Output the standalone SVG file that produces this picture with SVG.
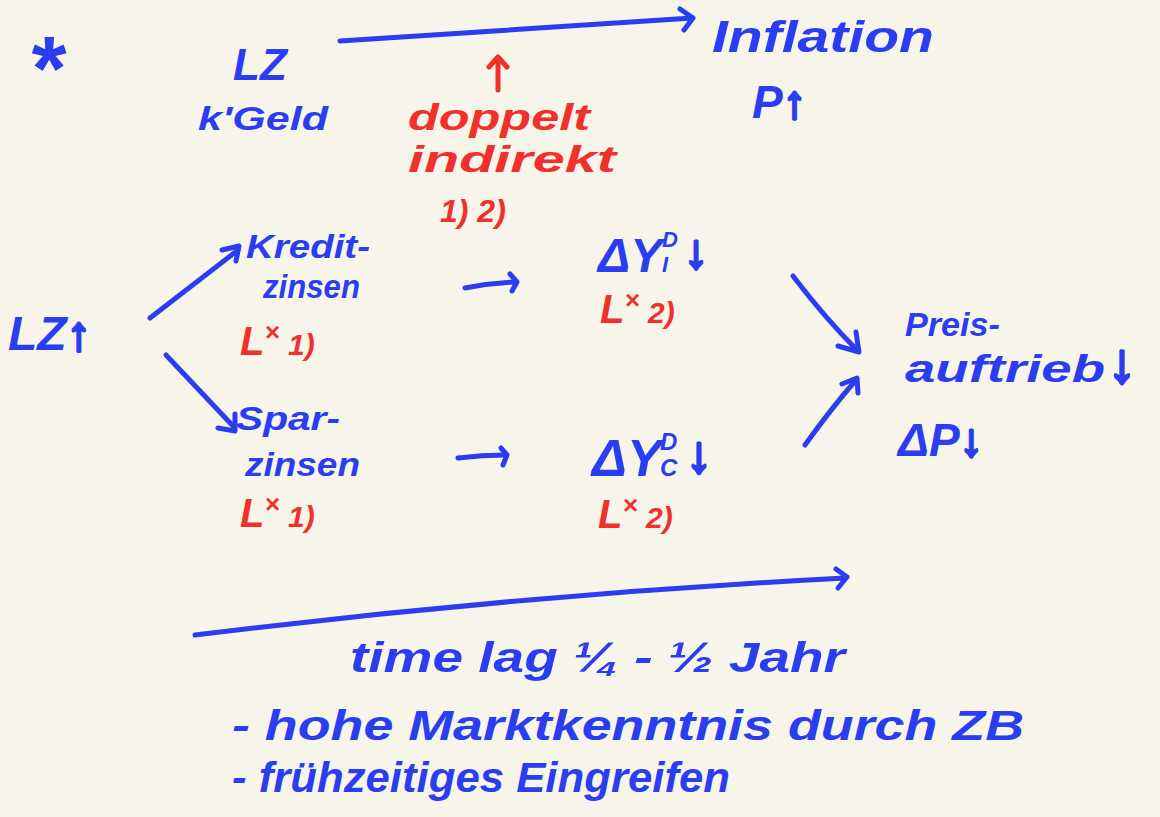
<svg xmlns="http://www.w3.org/2000/svg" width="1160" height="817" viewBox="0 0 1160 817">
<style>
.b{fill:#2a3df0;font-family:"Liberation Sans","Noto Sans",sans-serif;font-style:italic;font-weight:bold}
.r{fill:#f0302b;font-family:"Liberation Sans","Noto Sans",sans-serif;font-style:italic;font-weight:bold}
.a{stroke:#2a3df0;stroke-width:3;stroke-linejoin:round}
.cb{fill:none;stroke:#2a3df0;stroke-width:5;stroke-linecap:round;stroke-linejoin:round}
.cr{fill:none;stroke:#f0302b;stroke-width:5;stroke-linecap:round;stroke-linejoin:round}
</style>
<rect width="1160" height="817" fill="#f7f4ea"/>
<g id="star"><text class="b" x="28" y="100" font-size="90">*</text></g>
<g id="lz-kgeld">
<text class="b" x="233" y="80" font-size="44">LZ</text>
<text class="b" x="198" y="130" font-size="34" textLength="130" lengthAdjust="spacingAndGlyphs">k'Geld</text>
</g>
<g id="inflation">
<text class="b" x="712" y="52" font-size="44" textLength="222" lengthAdjust="spacingAndGlyphs">Inflation</text>
<text class="b" x="752" y="118" font-size="46">P<tspan class="a">↑</tspan></text>
</g>
<g id="doppelt">
<text class="r" x="408" y="130" font-size="36" textLength="182" lengthAdjust="spacingAndGlyphs">doppelt</text>
<text class="r" x="408" y="172" font-size="36" textLength="208" lengthAdjust="spacingAndGlyphs">indirekt</text>
<text class="r" x="440" y="222" font-size="32">1)  2)</text>
</g>
<g id="lz-up"><text class="b" x="8" y="350" font-size="48">LZ<tspan class="a">↑</tspan></text></g>
<g id="kreditzinsen">
<text class="b" x="246" y="258" font-size="34" textLength="124" lengthAdjust="spacingAndGlyphs">Kredit-</text>
<text class="b" x="263" y="298" font-size="34" textLength="97" lengthAdjust="spacingAndGlyphs">zinsen</text>
<text class="r" x="240" y="355" font-size="40">L<tspan font-size="26" dy="-14">×</tspan><tspan font-size="30" dy="14"> 1)</tspan></text>
</g>
<g id="sparzinsen">
<text class="b" x="236" y="430" font-size="34" textLength="104" lengthAdjust="spacingAndGlyphs">Spar-</text>
<text class="b" x="245" y="476" font-size="34" textLength="115" lengthAdjust="spacingAndGlyphs">zinsen</text>
<text class="r" x="240" y="527" font-size="40">L<tspan font-size="26" dy="-14">×</tspan><tspan font-size="30" dy="14"> 1)</tspan></text>
</g>
<g id="dyi">
<text class="b" x="598" y="272" font-size="48">ΔY</text>
<text class="b" x="662" y="247" font-size="22">D</text>
<text class="b" x="662" y="272" font-size="22">I</text>
<text class="b a" x="684" y="268" font-size="48">↓</text>
<text class="r" x="600" y="323" font-size="40">L<tspan font-size="26" dy="-14">×</tspan><tspan font-size="30" dy="14"> 2)</tspan></text>
</g>
<g id="dyc">
<text class="b" x="592" y="476" font-size="52">ΔY</text>
<text class="b" x="660" y="450" font-size="24">D</text>
<text class="b" x="660" y="476" font-size="24">C</text>
<text class="b a" x="686" y="472" font-size="52">↓</text>
<text class="r" x="598" y="528" font-size="40">L<tspan font-size="26" dy="-14">×</tspan><tspan font-size="30" dy="14"> 2)</tspan></text>
</g>
<g id="preisauftrieb">
<text class="b" x="905" y="336" font-size="34" textLength="95" lengthAdjust="spacingAndGlyphs">Preis-</text>
<text class="b" x="905" y="382" font-size="38" textLength="200" lengthAdjust="spacingAndGlyphs">auftrieb</text>
<text class="b a" x="1108" y="382" font-size="56">↓</text>
<text class="b" x="898" y="456" font-size="46">ΔP<tspan class="a">↓</tspan></text>
</g>
<g id="timelag">
<text class="b" x="350" y="672" font-size="42" textLength="495" lengthAdjust="spacingAndGlyphs">time lag ¼ - ½ Jahr</text>
<text class="b" x="232" y="740" font-size="42" textLength="792" lengthAdjust="spacingAndGlyphs">- hohe Marktkenntnis durch ZB</text>
<text class="b" x="232" y="792" font-size="42" textLength="498" lengthAdjust="spacingAndGlyphs">- frühzeitiges Eingreifen</text>
</g>
<g id="connectors">
<path class="cb" d="M340 41 Q520 30 692 18"/><path class="cb" d="M680 9 L693 18 L684 30"/>
<path class="cr" d="M498 90 L498 58"/><path class="cr" d="M489 67 L498 57 L507 67"/>
<path class="cb" d="M150 318 L238 250"/><path class="cb" d="M222 250 L239 246 L236 261"/>
<path class="cb" d="M166 355 L233 426"/><path class="cb" d="M218 428 L235 431 L235 414"/>
<path class="cb" d="M465 288 Q490 283 515 282"/><path class="cb" d="M510 274 L517 282 L512 291"/>
<path class="cb" d="M458 458 Q482 455 505 455"/><path class="cb" d="M501 448 L507 455 L503 465"/>
<path class="cb" d="M793 276 Q825 318 857 350"/><path class="cb" d="M838 346 L859 352 L856 332" stroke-width="6"/>
<path class="cb" d="M805 445 Q830 410 856 380"/><path class="cb" d="M842 384 L857 378 L858 393"/>
<path class="cb" d="M195 635 Q520 595 845 578"/><path class="cb" d="M836 569 L847 577 L838 588"/>
</g>
</svg>
